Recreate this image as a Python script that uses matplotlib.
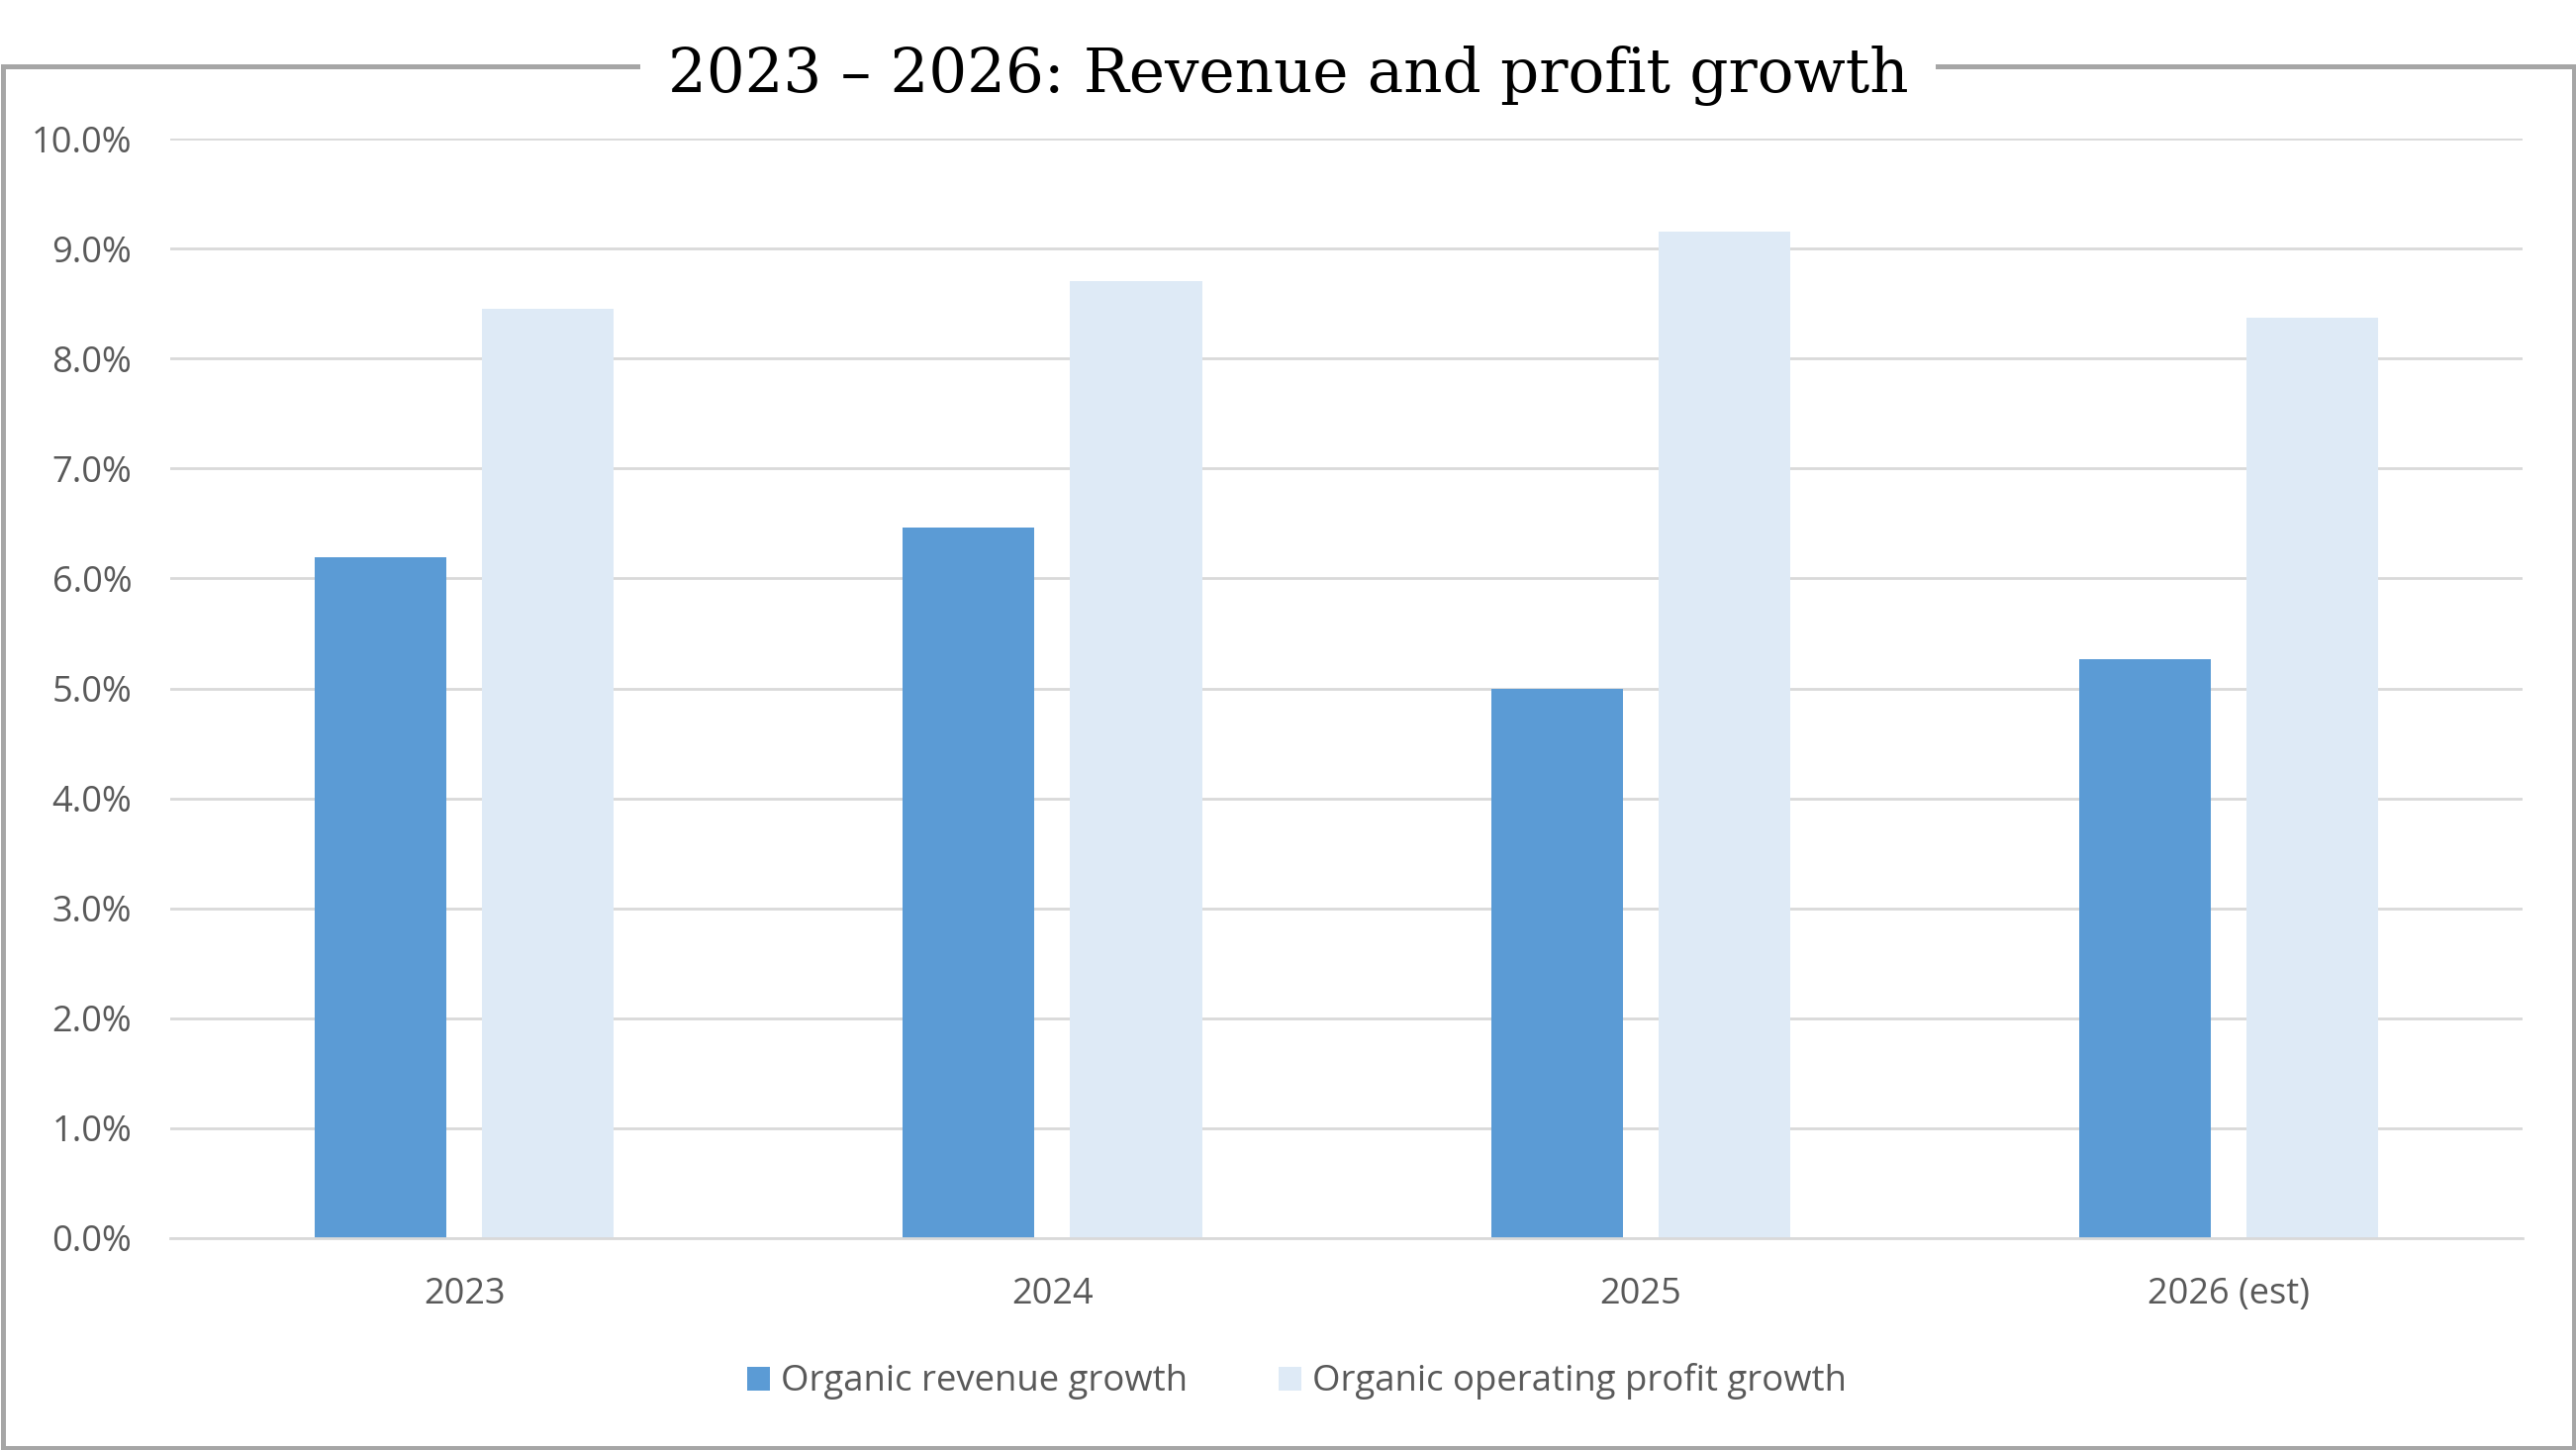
import numpy as np
import matplotlib.pyplot as plt
from matplotlib.patches import Rectangle
from matplotlib.ticker import FuncFormatter

# data (percent)
jaren = ['2023', '2024', '2025', '2026 (est)']
omzet_groei = [6.19, 6.46, 5.00, 5.27]
winst_groei = [8.45, 8.70, 9.15, 8.37]
reeks_namen = ['Organic revenue growth', 'Organic operating profit growth']

kleur_omzet = '#5B9BD5'
kleur_winst = '#DEEAF6'
tekstkleur = '#595959'

plt.rcParams['font.family'] = ['Open Sans', 'DejaVu Sans']

fig = plt.figure(figsize=[26.03, 14.65], dpi=100)
ax = fig.add_axes([0.0661, 0.1461, 0.9132, 0.7583])

x = np.arange(len(jaren))
b = 0.224
d = 0.1423
ax.bar(x - d, omzet_groei, width=b, color=kleur_omzet, label=reeks_namen[0])
ax.bar(x + d, winst_groei, width=b, color=kleur_winst, label=reeks_namen[1])

ax.set_xlim(-0.5, len(jaren) - 0.5)
ax.set_ylim(0, 10)
ax.set_yticks(np.arange(0, 10.5, 1))
ax.yaxis.set_major_formatter(FuncFormatter(lambda v, p: '{:.1f}%'.format(v)))
ax.set_xticks(x)
ax.set_xticklabels(jaren)
ax.tick_params(axis='both', length=0, labelsize=26, colors=tekstkleur)
ax.tick_params(axis='y', pad=28)
ax.tick_params(axis='x', pad=28)

ax.set_axisbelow(True)
ax.grid(axis='y', color='#D9D9D9', linewidth=2)
for s in ['top', 'left', 'right']:
    ax.spines[s].set_visible(False)
ax.spines['bottom'].set_color('#D9D9D9')
ax.spines['bottom'].set_linewidth(2)

leg = ax.legend(loc='center', bbox_to_anchor=(0.5035, 1 - 1396/1465), bbox_transform=fig.transFigure,
                ncol=2, frameon=False, fontsize=26.3, handlelength=0.64, handleheight=0.64,
                handletextpad=0.3, columnspacing=2.5)
for t in leg.get_texts():
    t.set_color(tekstkleur)

# kader rond de figuur
rand = Rectangle((2.5/2603, 2.5/1465), 1 - 5/2603, 1 - 69.5/1465, transform=fig.transFigure,
                 fill=False, edgecolor='#A6A6A6', linewidth=3.6, zorder=0)
fig.patches.append(rand)

fig.text(0.5, 1 - 93/1465, '2023 \u2013 2026: Revenue and profit growth', ha='center', va='baseline',
         fontsize=44, family='DejaVu Serif', color='black',
         bbox=dict(boxstyle='square,pad=0.45', facecolor='white', edgecolor='none'))

plt.savefig('out.png', dpi=100)
